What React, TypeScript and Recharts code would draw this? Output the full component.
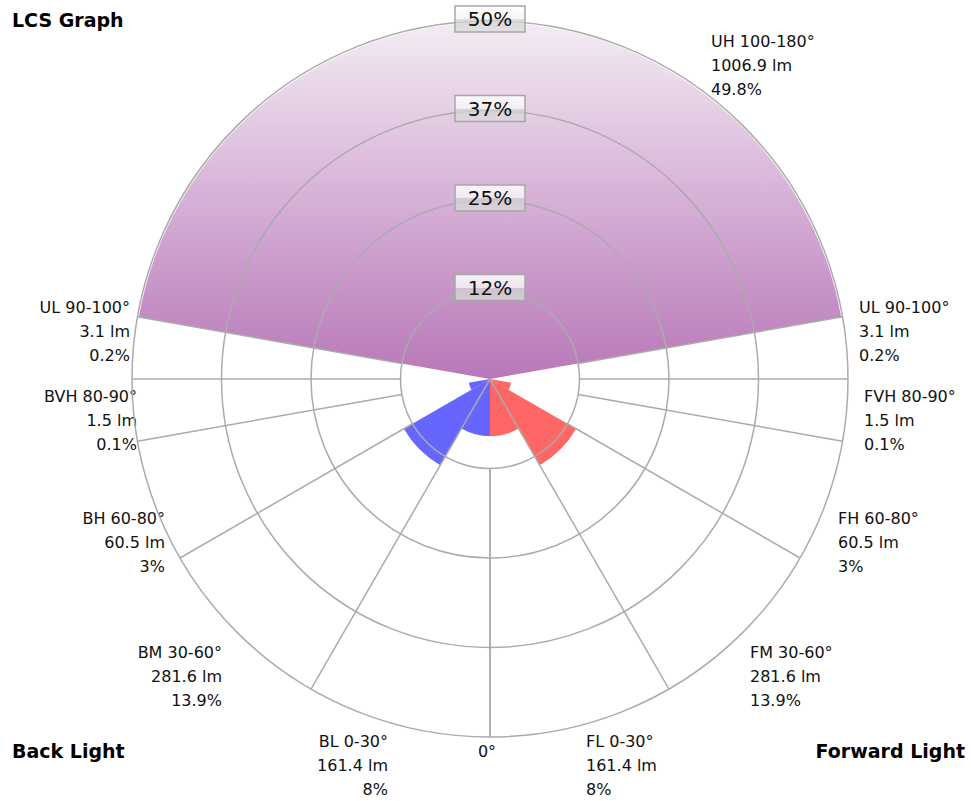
import React from 'react';
import { PieChart, Pie } from 'recharts';

// LCS zones, back side first, then uplight, then forward side
const ZONES = ['BL', 'BM', 'BH', 'BVH', 'UL', 'UH', 'UL', 'FVH', 'FH', 'FM', 'FL'];
const SIDES = ['back', 'back', 'back', 'back', 'back', 'up', 'forward', 'forward', 'forward', 'forward', 'forward'];
const ANGLE_FROM = [0, 30, 60, 80, 90, 100, 90, 80, 60, 30, 0];
const ANGLE_TO = [30, 60, 80, 90, 100, 180, 100, 90, 80, 60, 30];
const LUMENS = [161.4, 281.6, 60.5, 1.5, 3.1, 1006.9, 3.1, 1.5, 60.5, 281.6, 161.4];
const PERCENTS = [8, 13.9, 3, 0.1, 0.2, 49.8, 0.2, 0.1, 3, 13.9, 8];

const RING_VALUES = [12.5, 25, 37.5, 50];
const RING_LABELS = ['12%', '25%', '37%', '50%'];
const GRID_ANGLES = [0, 30, 60, 80, 90, 100];

// layout
const W = 971;
const H = 801;
const CX = 490;
const CY = 379;
const R = 358;
const MAX_PCT = 50;
const LINE_H = 24;
const LABEL_POS = [
  { x: 388, y: 747, anchor: 'end' },
  { x: 222, y: 658, anchor: 'end' },
  { x: 165, y: 524, anchor: 'end' },
  { x: 137, y: 402, anchor: 'end' },
  { x: 130, y: 313, anchor: 'end' },
  { x: 711, y: 47, anchor: 'start' },
  { x: 859, y: 313, anchor: 'start' },
  { x: 864, y: 402, anchor: 'start' },
  { x: 838, y: 524, anchor: 'start' },
  { x: 750, y: 658, anchor: 'start' },
  { x: 586, y: 747, anchor: 'start' },
];

const FONT = 'Tahoma, "DejaVu Sans", sans-serif';
const GRID_COLOR = '#ababab';
const SIDE_FILL: Record<string, string> = {
  back: '#6666ff',
  up: 'url(#uhGrad)',
  forward: '#ff6666',
};

const rScale = (p: number) => (p / MAX_PCT) * R;

const polar = (r: number, deg: number) => ({
  x: CX + r * Math.cos((deg * Math.PI) / 180),
  y: CY - r * Math.sin((deg * Math.PI) / 180),
});

const startAngle = (i: number) =>
  SIDES[i] === 'back' ? 270 - ANGLE_FROM[i] : ANGLE_FROM[i] - 90;
const endAngle = (i: number) => {
  if (SIDES[i] === 'back') return 270 - ANGLE_TO[i];
  if (SIDES[i] === 'up') return 270 - ANGLE_FROM[i];
  return ANGLE_TO[i] - 90;
};

// grid + ring badges sit above the sectors, so they go in an overlay svg
const Overlay = () => {
  const rInner = rScale(RING_VALUES[0]);
  const lines = GRID_ANGLES.flatMap((a) => [270 - a, a - 90].map((deg) => ({ a, deg })));
  return (
    <svg width={W} height={H} style={{ position: 'absolute', left: 0, top: 0, pointerEvents: 'none' }}>
      <defs>
        <linearGradient id="boxGrad" x1="0" y1="0" x2="0" y2="1">
          <stop offset="0%" stopColor="#ffffff" stopOpacity={0.85} />
          <stop offset="50%" stopColor="#f4f4f4" stopOpacity={0.85} />
          <stop offset="51%" stopColor="#d2d2d2" stopOpacity={0.75} />
          <stop offset="100%" stopColor="#dcdcdc" stopOpacity={0.75} />
        </linearGradient>
      </defs>
      {RING_VALUES.map((v) => (
        <circle key={v} cx={CX} cy={CY} r={rScale(v)} fill="none" stroke={GRID_COLOR} strokeWidth={1.5} />
      ))}
      {lines.map(({ a, deg }, i) => {
        // only the 30° spokes run right into the centre
        const p1 = polar(a === 30 ? 0 : rInner, deg);
        const p2 = polar(R, deg);
        return <line key={i} x1={p1.x} y1={p1.y} x2={p2.x} y2={p2.y} stroke={GRID_COLOR} strokeWidth={1.5} />;
      })}
      {RING_VALUES.map((v, i) => {
        const y = CY - rScale(v) - 2;
        return (
          <g key={`lbl-${v}`}>
            <rect x={CX - 35} y={y - 13} width={70} height={26} fill="url(#boxGrad)" stroke="#a6a6a6" strokeWidth={1.5} />
            <text x={CX} y={y + 7} textAnchor="middle" fontFamily={FONT} fontSize={20} fill="#111">
              {RING_LABELS[i]}
            </text>
          </g>
        );
      })}
    </svg>
  );
};

const ZoneLabels = () => (
  <g>
    {ZONES.map((z, i) => {
      const pos = LABEL_POS[i];
      const lines = [`${z} ${ANGLE_FROM[i]}-${ANGLE_TO[i]}°`, `${LUMENS[i]} lm`, `${PERCENTS[i]}%`];
      return (
        <text key={i} x={pos.x} y={pos.y} textAnchor={pos.anchor as any} fontFamily={FONT} fontSize={16} fill="#111">
          {lines.map((t, j) => (
            <tspan key={j} x={pos.x} dy={j === 0 ? 0 : LINE_H}>
              {t}
            </tspan>
          ))}
        </text>
      );
    })}
    <text x={487} y={757} textAnchor="middle" fontFamily={FONT} fontSize={16} fill="#111">
      0°
    </text>
  </g>
);

export default function App() {
  return (
    <div style={{ position: 'absolute', left: 0, top: 0, width: W, height: H, background: '#fff' }}>
      <PieChart width={W} height={H} margin={{ top: 0, right: 0, bottom: 0, left: 0 }}>
        <defs>
          <linearGradient id="uhGrad" x1="0" y1="0" x2="0" y2="1">
            <stop offset="0%" stopColor="#f3ecf3" />
            <stop offset="50%" stopColor="#d6b0d6" />
            <stop offset="100%" stopColor="#b878b8" />
          </linearGradient>
        </defs>
        {ZONES.map((z, i) => (
          <Pie
            key={`zone-${i}`}
            data={[{ name: z, value: PERCENTS[i] }]}
            dataKey="value"
            cx={CX}
            cy={CY}
            innerRadius={0}
            outerRadius={rScale(PERCENTS[i])}
            startAngle={startAngle(i)}
            endAngle={endAngle(i)}
            fill={SIDE_FILL[SIDES[i]]}
            stroke="none"
            isAnimationActive={false}
          />
        ))}
        <ZoneLabels />
        <text x={12} y={27} fontFamily={FONT} fontWeight="bold" fontSize={19} fill="#000">
          LCS Graph
        </text>
        <text x={12} y={758} fontFamily={FONT} fontWeight="bold" fontSize={19} fill="#000">
          Back Light
        </text>
        <text x={965} y={758} textAnchor="end" fontFamily={FONT} fontWeight="bold" fontSize={19} fill="#000">
          Forward Light
        </text>
      </PieChart>
      <Overlay />
    </div>
  );
}
